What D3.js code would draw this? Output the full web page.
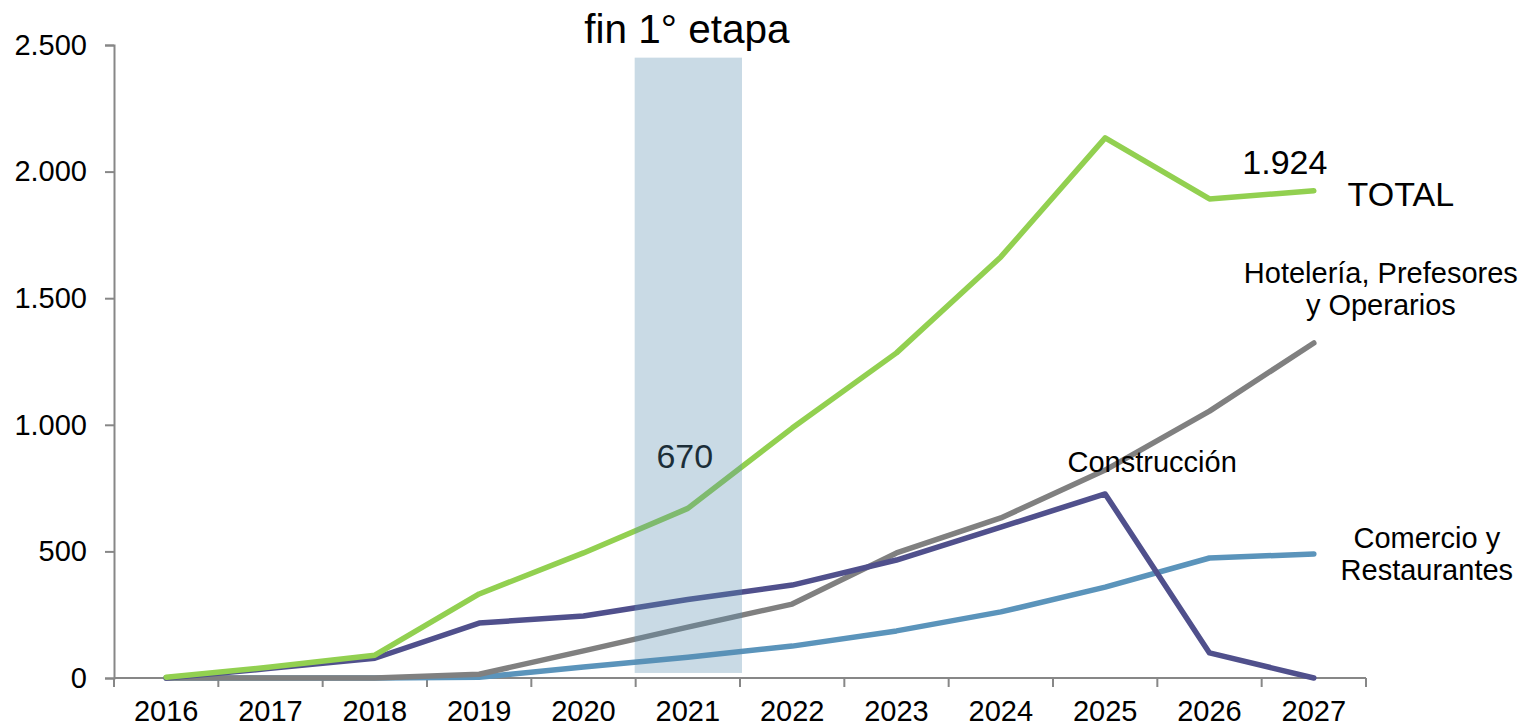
<!DOCTYPE html>
<html><head><meta charset="utf-8">
<script src="https://cdn.jsdelivr.net/npm/d3@7"></script>
<style>html,body{margin:0;padding:0;background:#fff}svg{display:block;font-family:"Liberation Sans",Arial,sans-serif}</style>
</head><body>
<svg id="c" width="1526" height="726"></svg>
<script>
const years = ["2016","2017","2018","2019","2020","2021","2022","2023","2024","2025","2026","2027"];
const total = [3, 43, 90, 332, 494, 670, 987, 1284, 1663, 2133, 1892, 1924];
const construccion = [0, 38, 78, 217, 245, 310, 367, 466, 596, 727, 99, 0];
const hoteleria = [0, 0, 0, 15, 107, 201, 292, 494, 632, 821, 1054, 1323];
const comercio = [0, 0, 0, 3, 43, 82, 126, 186, 261, 359, 474, 490];
const yTicks = [0, 500, 1000, 1500, 2000, 2500];

const svg = d3.select("#c");
const x = d3.scaleBand().domain(years).range([114, 1366]).padding(0);
const y = d3.scaleLinear().domain([0, 2500]).range([678, 45]);
const bw = x.bandwidth();
const cx = d => x(d) + bw / 2;
const fmt = d3.formatLocale({decimal: ",", thousands: ".", grouping: [3], currency: ["", ""]}).format(",d");
const axisColor = "#878787";

// y axis
const yAxis = d3.axisLeft(y).tickValues(yTicks).tickSize(9).tickPadding(18).tickFormat(fmt);
const gy = svg.append("g").attr("transform", "translate(114,0)").call(yAxis);
gy.select(".domain").attr("stroke", axisColor).attr("stroke-width", 2);
gy.selectAll(".tick line").attr("stroke", axisColor).attr("stroke-width", 2);
gy.selectAll(".tick text").attr("fill", "#000").style("font-size", "29px").style("font-family", "Liberation Sans, Arial, sans-serif");

// x axis
const gx = svg.append("g");
gx.append("line").attr("x1", x.range()[0]).attr("x2", x.range()[1]).attr("y1", y(0)).attr("y2", y(0))
  .attr("stroke", axisColor).attr("stroke-width", 2);
const edges = years.map(d => x(d)).concat([x.range()[1]]);
gx.selectAll("line.t").data(edges).join("line").attr("class", "t")
  .attr("x1", d => d).attr("x2", d => d).attr("y1", y(0)).attr("y2", y(0) + 9)
  .attr("stroke", axisColor).attr("stroke-width", 2);
gx.selectAll("text").data(years).join("text")
  .attr("x", d => cx(d)).attr("y", 721).attr("text-anchor", "middle")
  .style("font-size", "29px").attr("fill", "#000").text(d => d);

// label 670 (under the shaded band)
svg.append("text").attr("x", cx("2021") - 3).attr("y", 468).attr("text-anchor", "middle")
  .style("font-size", "34px").attr("fill", "#000").text(fmt(total[5]));

// lines
const line = d3.line().x((d, i) => cx(years[i])).y(d => y(d));
const series = [
  {v: comercio, c: "#5b94bb"},
  {v: hoteleria, c: "#808080"},
  {v: construccion, c: "#50508c"},
  {v: total, c: "#92d050"}
];
svg.selectAll("path.s").data(series).join("path").attr("class", "s")
  .attr("d", d => line(d.v)).attr("fill", "none").attr("stroke", d => d.c)
  .attr("stroke-width", 5.5).attr("stroke-linecap", "round").attr("stroke-linejoin", "round");

// shaded band
svg.append("rect").attr("x", x("2021") - 1).attr("width", bw + 3)
  .attr("y", y(2450)).attr("height", y(20) - y(2450))
  .attr("fill", "rgb(86,139,174)").attr("fill-opacity", 0.32);

// title
svg.append("text").attr("x", cx("2021") - 1).attr("y", 43).attr("text-anchor", "middle")
  .style("font-size", "40.5px").attr("fill", "#000").text("fin 1° etapa");

// annotations
const ann = (tx, ty, lines, size, anchor) => {
  const t = svg.append("text").attr("text-anchor", anchor || "middle").style("font-size", size + "px").attr("fill", "#000");
  lines.forEach((l, i) => t.append("tspan").attr("x", tx).attr("y", ty + i * size * 1.1).text(l));
};
ann(cx("2027") - 29, y(total[11]) - 17, [fmt(total[11])], 34);
ann(cx("2027") + 87, y(total[11]) + 15, ["TOTAL"], 34);
ann(cx("2027") + 67, 283, ["Hotelería, Prefesores", "y Operarios"], 29);
ann(cx("2025") + 47, 472, ["Construcción"], 29);
ann(cx("2027") + 113, 548, ["Comercio y", "Restaurantes"], 29);
</script>
</body></html>
